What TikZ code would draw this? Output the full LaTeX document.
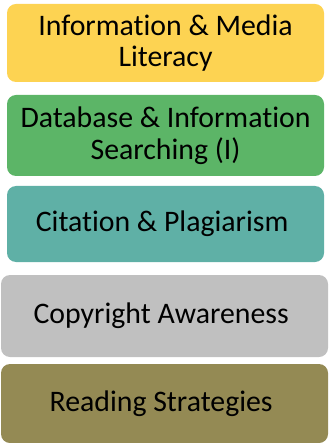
\documentclass[tikz,border=0pt]{standalone}
\usepackage{fontspec}
\setmainfont{Carlito}[Ligatures=NoCommon]

\definecolor{litgold}{HTML}{FDD352}
\definecolor{dbgreen}{HTML}{5CB567}
\definecolor{citeteal}{HTML}{5FB0A6}
\definecolor{copygray}{HTML}{C0C0C0}
\definecolor{readolive}{HTML}{948A54}

\tikzset{
	topic/.style={rounded corners=9pt,align=center,inner sep=0pt,
		font=\fontsize{29.8}{31.5}\selectfont,text=black}
}

\begin{document}
\begin{tikzpicture}[x=1pt,y=1pt]
			\useasboundingbox (0,0) rectangle (329,-443);

			% upper three
			\node[topic,fill=litgold,minimum width=317pt,minimum height=78pt] (literacy) at (165.5,-43) {
				Information \& Media\\
				Literacy
			};
			\node[topic,fill=dbgreen,minimum width=317pt,minimum height=81pt] (database) at (165.5,-135.5) {
				Database \& Information\\
				Searching (I)
			};
			\node[topic,fill=citeteal,minimum width=317pt,minimum height=76pt] (citation) at (165.5,-224) {
				Citation \& Plagiarism
			};

			% lower two, a little wider
			\node[topic,fill=copygray,minimum width=327pt,minimum height=82pt] (copyright) at (164.5,-316) {
				Copyright Awareness
			};
			\node[topic,fill=readolive,minimum width=327pt,minimum height=79pt] (reading) at (164.5,-403.5) {
				Reading Strategies
			};
		\end{tikzpicture}
\end{document}
